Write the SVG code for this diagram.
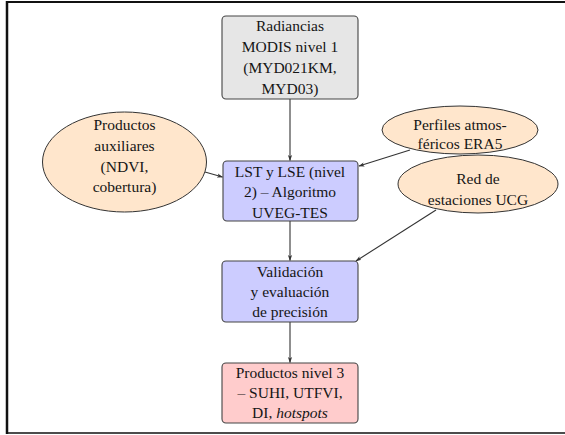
<svg xmlns="http://www.w3.org/2000/svg" width="565" height="435" viewBox="0 0 565 435">
<defs>
<marker id="arr" viewBox="0 0 10 10" refX="9" refY="5" markerWidth="6" markerHeight="6" orient="auto" markerUnits="userSpaceOnUse">
<path d="M0,1.5 L10,5 L0,8.5 L2.5,5 Z" fill="#333"/>
</marker>
<style>
text{font-size:15.5px;fill:#151515;text-anchor:middle}
.box{stroke:#444;stroke-width:1.1}
.ell{fill:#ffe6cc;stroke:#333;stroke-width:1}
.edge{stroke:#333;stroke-width:1.1;fill:none;marker-end:url(#arr)}
</style>
</defs>
<rect width="565" height="435" fill="#fff"/>
<g id="frame" stroke="#111" fill="none">
<line x1="6" y1="2" x2="565" y2="2" stroke-width="2"/>
<line x1="7" y1="1" x2="7" y2="434" stroke-width="2.5"/>
<line x1="6" y1="433" x2="565" y2="433" stroke-width="1.5"/>
</g>
<g id="connectors">
<line class="edge" x1="290" y1="99" x2="290" y2="160.5"/>
<line class="edge" x1="290" y1="221" x2="290" y2="260.5"/>
<line class="edge" x1="290" y1="322" x2="290" y2="362.5"/>
<line class="edge" x1="205" y1="172" x2="222.5" y2="177"/>
<line class="edge" x1="410" y1="150" x2="359" y2="166"/>
<line class="edge" x1="436" y1="210" x2="356" y2="261"/>
</g>
<g font-family="'Liberation Serif', 'DejaVu Serif', 'Times New Roman', serif">
<g id="radiancias">
<rect class="box" x="222" y="16" width="136" height="83" rx="4" fill="#e6e6e6"/>
<text x="290" y="31">Radiancias</text>
<text x="290" y="52">MODIS nivel 1</text>
<text x="290" y="73">(MYD021KM,</text>
<text x="290" y="94">MYD03)</text>
</g>
<g id="lst">
<rect class="box" x="223" y="161" width="135" height="60" rx="4" fill="#ccccff"/>
<text x="290" y="177">LST y LSE (nivel</text>
<text x="290" y="197">2) – Algoritmo</text>
<text x="290" y="218">UVEG-TES</text>
</g>
<g id="validacion">
<rect class="box" x="222" y="261" width="136" height="61" rx="4" fill="#ccccff"/>
<text x="290" y="277">Validación</text>
<text x="290" y="297">y evaluación</text>
<text x="290" y="317">de precisión</text>
</g>
<g id="productos3">
<rect class="box" x="222" y="363" width="136" height="60" rx="4" fill="#ffcccc"/>
<text x="290" y="378">Productos nivel 3</text>
<text x="290" y="398">– SUHI, UTFVI,</text>
<text x="290" y="418">DI, <tspan font-style="italic">hotspots</tspan></text>
</g>
<g id="auxiliares">
<ellipse class="ell" cx="124.5" cy="162" rx="82" ry="50"/>
<text x="124.5" y="130">Productos</text>
<text x="124.5" y="151">auxiliares</text>
<text x="124.5" y="172">(NDVI,</text>
<text x="124.5" y="192">cobertura)</text>
</g>
<g id="perfiles">
<ellipse class="ell" cx="460" cy="130" rx="78" ry="24"/>
<text x="460" y="130">Perfiles atmos-</text>
<text x="460" y="149">féricos ERA5</text>
</g>
<g id="red">
<ellipse class="ell" cx="478" cy="184" rx="80" ry="29"/>
<text x="478" y="184">Red de</text>
<text x="478" y="205">estaciones UCG</text>
</g>
</g>
</svg>
